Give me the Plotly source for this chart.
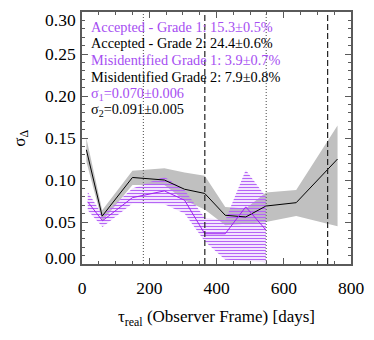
import plotly.graph_objects as go

# ---------------- data ----------------
tau_bins = [13, 60, 150, 245, 305, 365, 426, 487, 547, 637, 760]

sigma_grade2 = [0.136, 0.057, 0.103, 0.100, 0.089, 0.084, 0.058, 0.056, 0.069, 0.073, 0.125]
grade2_upper = [0.150, 0.064, 0.111, 0.114, 0.109, 0.105, 0.068, 0.066, 0.085, 0.088, 0.165]
grade2_lower = [0.122, 0.051, 0.094, 0.094, 0.076, 0.065, 0.046, 0.048, 0.050, 0.057, 0.045]

tau_bins_g1 = [17, 61, 150, 245, 305, 365, 426, 487, 547]
sigma_grade1 = [0.074, 0.0515, 0.079, 0.087, 0.076, 0.036, 0.036, 0.068, 0.0405]
grade1_upper = [0.086, 0.058, 0.090, 0.104, 0.088, 0.055, 0.052, 0.112, 0.080]
grade1_lower = [0.064, 0.044, 0.072, 0.071, 0.060, 0.027, 0.005, 0.004, 0.002]

dotted_lines = [182.6, 547.9]
dashed_lines = [365.25, 730.5]

x_ticks = [0, 200, 400, 600, 800]
y_ticks = [0.00, 0.05, 0.10, 0.15, 0.20, 0.25, 0.30]
y_tick_labels = ["0.00", "0.05", "0.10", "0.15", "0.20", "0.25", "0.30"]

info_lines = [
    "Accepted - Grade 1: 15.3±0.5%",
    "Accepted - Grade 2: 24.4±0.6%",
    "Misidentified Grade 1: 3.9±0.7%",
    "Misidentified Grade 2: 7.9±0.8%",
    "σ<sub>1</sub>=0.070±0.006",
    "σ<sub>2</sub>=0.091±0.005",
]
info_grades = [1, 2, 1, 2, 1, 2]

# ---------------- style ----------------
PURPLE = "#a020f0"
PURPLE_TXT = "#a64ef2"
GRAY_BAND = "#c0c0c0"
AXIS = "#5a5a5a"
FONT = "Liberation Serif, Times New Roman, serif"

fig = go.Figure()

# grade-2 gray band
fig.add_trace(go.Scatter(
    x=tau_bins + tau_bins[::-1],
    y=grade2_upper + grade2_lower[::-1],
    fill="toself", fillcolor=GRAY_BAND,
    line=dict(width=0), mode="lines", hoverinfo="skip", showlegend=False,
))

# grade-1 hatched band
fig.add_trace(go.Scatter(
    x=tau_bins_g1 + tau_bins_g1[::-1],
    y=grade1_upper + grade1_lower[::-1],
    fill="toself", fillcolor="rgba(0,0,0,0)",
    fillpattern=dict(shape="-", size=3, solidity=0.45,
                     fgcolor="#b565f5", bgcolor="rgba(0,0,0,0)", fgopacity=1),
    line=dict(width=0), mode="lines", hoverinfo="skip", showlegend=False,
))

# lines
fig.add_trace(go.Scatter(x=tau_bins, y=sigma_grade2, mode="lines",
                         line=dict(color="black", width=1), showlegend=False))
fig.add_trace(go.Scatter(x=tau_bins_g1, y=sigma_grade1, mode="lines",
                         line=dict(color=PURPLE, width=1), showlegend=False))

# vertical reference lines
for xv in dotted_lines:
    fig.add_shape(type="line", x0=xv, x1=xv, y0=0, y1=1, xref="x", yref="paper",
                  line=dict(color="#666666", width=1.2, dash="1px,2px"), layer="above")
for xv in dashed_lines:
    fig.add_shape(type="line", x0=xv, x1=xv, y0=0, y1=1, xref="x", yref="paper",
                  line=dict(color="#222222", width=1.2, dash="6px,3px"), layer="above")

# info text block
for i, (txt, g) in enumerate(zip(info_lines, info_grades)):
    fig.add_annotation(
        text=txt, xref="paper", yref="paper", x=0.027, y=0.942 - i * 0.0665,
        xanchor="left", yanchor="middle", showarrow=False,
        font=dict(family=FONT, size=14.3, color=PURPLE_TXT if g == 1 else "black"),
    )

# y tick labels (end labels pulled inside the frame)
for yv, lab in zip(y_ticks, y_tick_labels):
    shift = 0
    if yv == y_ticks[0]:
        shift = 6
    elif yv == y_ticks[-1]:
        shift = -8
    fig.add_annotation(
        text=lab, xref="paper", yref="y", x=0, y=yv, xshift=-4, yshift=shift,
        xanchor="right", yanchor="middle", showarrow=False,
        font=dict(family=FONT, size=17.5, color="black"),
    )

# axis titles
fig.add_annotation(text="σ<sub>Δ</sub>", xref="paper", yref="paper",
                   x=-0.228, y=0.5, textangle=-90, showarrow=False,
                   xanchor="center", yanchor="middle",
                   font=dict(family=FONT, size=17, color="black"))
fig.add_annotation(text="τ<sub>real</sub> (Observer Frame) [days]",
                   xref="paper", yref="paper", x=0.5, y=-0.215,
                   showarrow=False, xanchor="center", yanchor="middle",
                   font=dict(family=FONT, size=17, color="black"))

fig.update_xaxes(
    range=[0, 800], tickvals=x_ticks, ticktext=[str(v) for v in x_ticks],
    ticks="inside", ticklen=6, tickwidth=1, tickcolor=AXIS,
    showline=True, linecolor=AXIS, linewidth=1.5, mirror="ticks",
    showgrid=False, zeroline=False, ticklabelstandoff=7,
    ticklabeloverflow="allow",
    tickfont=dict(family=FONT, size=17.5, color="black"),
    minor=dict(dtick=50, ticks="inside", ticklen=3, tickcolor=AXIS, showgrid=False),
)
fig.update_yaxes(
    range=[0, 0.30], tickvals=y_ticks, showticklabels=False,
    ticks="inside", ticklen=6, tickwidth=1, tickcolor=AXIS,
    showline=True, linecolor=AXIS, linewidth=1.5, mirror="ticks",
    showgrid=False, zeroline=False,
    minor=dict(dtick=0.01, ticks="inside", ticklen=3, tickcolor=AXIS, showgrid=False),
)

fig.update_layout(
    width=374, height=340,
    margin=dict(l=82, r=18, t=10, b=76),
    plot_bgcolor="white", paper_bgcolor="white",
    font=dict(family=FONT, color="black"),
    showlegend=False,
)

fig.write_html("out.html", config={"displayModeBar": False},
               post_script="document.body.style.margin='0';document.body.style.padding='0';")
